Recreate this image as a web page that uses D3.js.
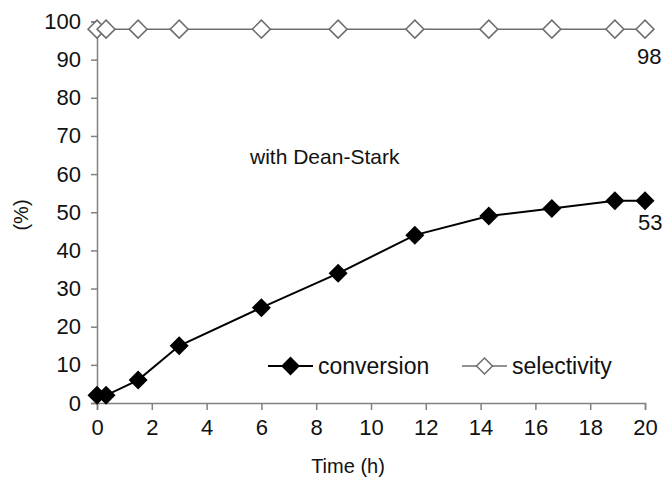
<!DOCTYPE html>
<html>
<head>
<meta charset="utf-8">
<script src="https://cdn.jsdelivr.net/npm/d3@7"></script>
<style>
  body { margin: 0; background: #fff; }
  text { font-family: "Liberation Sans", Arial, sans-serif; fill: #111; }
</style>
</head>
<body>
<div id="chart"></div>
<script>
// data
var times = [0, 0.33, 1.5, 3, 6, 8.8, 11.6, 14.3, 16.6, 18.9, 20];
var conversion = [2, 2, 6, 15, 25, 34, 44, 49, 51, 53, 53];
var selectivity = [98, 98, 98, 98, 98, 98, 98, 98, 98, 98, 98];
var xTicks = [0, 2, 4, 6, 8, 10, 12, 14, 16, 18, 20];
var yTicks = [0, 10, 20, 30, 40, 50, 60, 70, 80, 90, 100];

var W = 664, H = 478;
var svg = d3.select("#chart").append("svg")
    .attr("width", W)
    .attr("height", H);

var x = d3.scaleLinear().domain([0, 20]).range([97, 645]);
var y = d3.scaleLinear().domain([0, 100]).range([403, 21.5]);

var axisCol = "#808080";

// y axis
var yAxis = svg.append("g")
  .attr("transform", "translate(" + x(0) + ",0)")
  .call(d3.axisLeft(y).tickValues(yTicks).tickSize(6).tickPadding(10));
// x axis
var xAxis = svg.append("g")
  .attr("transform", "translate(0," + y(0) + ")")
  .call(d3.axisBottom(x).tickValues(xTicks).tickSize(7).tickPadding(9));

[xAxis, yAxis].forEach(function(a) {
  a.select(".domain").attr("stroke", axisCol).attr("stroke-width", 1.5);
  a.selectAll(".tick line").attr("stroke", axisCol).attr("stroke-width", 1.5);
  a.selectAll(".tick text").style("font-size", "22px").attr("fill", "#111");
});

// axis titles
svg.append("text")
  .attr("x", 348).attr("y", 473)
  .style("text-anchor", "middle")
  .style("font-size", "20px")
  .text("Time (h)");

svg.append("text")
  .attr("transform", "translate(28,215) rotate(-90)")
  .style("text-anchor", "middle")
  .style("font-size", "20px")
  .text("(%)");

var diamond = function(r) {
  return "M0," + (-r) + "L" + r + ",0L0," + r + "L" + (-r) + ",0Z";
};

var line = d3.line()
  .x(function(d) { return x(d[0]); })
  .y(function(d) { return y(d[1]); });

var selData = times.map(function(t, i) { return [t, selectivity[i]]; });
var convData = times.map(function(t, i) { return [t, conversion[i]]; });

// selectivity series
svg.append("path")
  .datum(selData)
  .attr("d", line)
  .attr("fill", "none")
  .attr("stroke", "#6e6e6e")
  .attr("stroke-width", 1.5);
svg.selectAll(".sel")
  .data(selData)
  .enter()
  .append("path")
    .attr("class", "sel")
    .attr("transform", function(d) { return "translate(" + x(d[0]) + "," + y(d[1]) + ")"; })
    .attr("d", diamond(9))
    .attr("fill", "#fff")
    .attr("stroke", "#6e6e6e")
    .attr("stroke-width", 1.5);

// conversion series
svg.append("path")
  .datum(convData)
  .attr("d", line)
  .attr("fill", "none")
  .attr("stroke", "#000")
  .attr("stroke-width", 2);
svg.selectAll(".conv")
  .data(convData)
  .enter()
  .append("path")
    .attr("class", "conv")
    .attr("transform", function(d) { return "translate(" + x(d[0]) + "," + y(d[1]) + ")"; })
    .attr("d", diamond(9.5))
    .attr("fill", "#000");

// end labels
svg.append("text")
  .attr("x", x(20) - 8).attr("y", y(98) + 35)
  .style("font-size", "22px")
  .text(selectivity[selectivity.length - 1]);
svg.append("text")
  .attr("x", x(20) - 7).attr("y", y(53) + 29)
  .style("font-size", "22px")
  .text(conversion[conversion.length - 1]);

// annotation
svg.append("text")
  .attr("x", 250).attr("y", 164)
  .style("font-size", "21px")
  .text("with Dean-Stark");

// legend
var legend = svg.append("g");
var items = [
  {name: "conversion", x1: 268, fill: "#000", stroke: "#000", sw: 2, r: 8},
  {name: "selectivity", x1: 462, fill: "#fff", stroke: "#6e6e6e", sw: 1.5, r: 8}
];
items.forEach(function(it) {
  legend.append("line")
    .attr("x1", it.x1).attr("x2", it.x1 + 45)
    .attr("y1", 366).attr("y2", 366)
    .attr("stroke", it.stroke).attr("stroke-width", it.sw);
  legend.append("path")
    .attr("transform", "translate(" + (it.x1 + 22.5) + ",366)")
    .attr("d", diamond(it.r))
    .attr("fill", it.fill)
    .attr("stroke", it.stroke)
    .attr("stroke-width", it.sw);
  legend.append("text")
    .attr("x", it.x1 + 50).attr("y", 374)
    .style("font-size", "23px")
    .text(it.name);
});
</script>
</body>
</html>
